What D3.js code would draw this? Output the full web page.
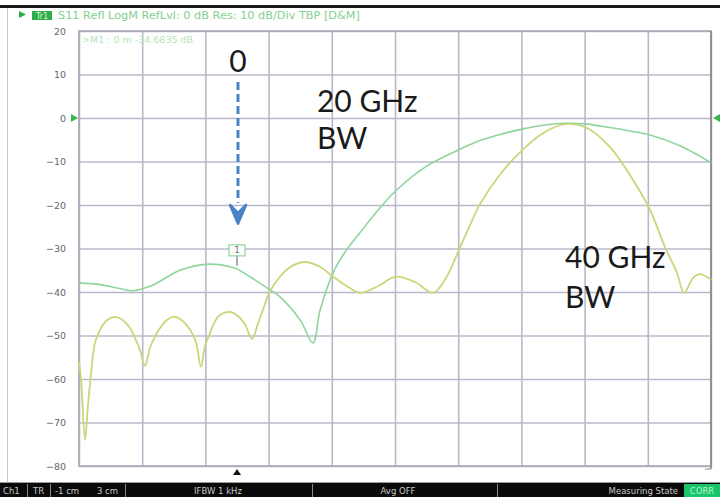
<!DOCTYPE html>
<html>
<head>
<meta charset="utf-8">
<script src="https://cdn.jsdelivr.net/npm/d3@7"></script>
<style>
  body { margin: 0; background: #fff; }
  svg { display: block; font-family: "DejaVu Sans", sans-serif; }
</style>
</head>
<body>
<script>
// distance in cm, S11 in dB
var trace20X = [-1.000, -0.867, -0.741, -0.658, -0.532, -0.361, -0.171, -0.044, 0.000, 0.082, 0.209, 0.272, 0.399, 0.481,
  0.525, 0.608, 0.684, 0.778, 0.886, 1.000, 1.203, 1.411, 1.538, 1.665, 1.810, 1.949, 2.076, 2.215, 2.361, 2.487, 2.614, 2.804, 3.000];
var trace20Y = [-37.9, -38.3, -39.2, -39.7, -38.4, -35.0, -33.6, -34.2, -34.68, -36.5, -39.5, -41.1, -46.4, -51.7,
  -44.3, -35.6, -30.8, -26.4, -21.5, -16.9, -11.0, -7.2, -5.2, -3.8, -2.5, -1.6, -1.2, -1.4, -2.2, -3.0, -3.9, -6.4, -10.3];

var trace40X = [-1.000, -0.987, -0.962, -0.943, -0.930, -0.899, -0.867, -0.823, -0.772, -0.722, -0.677, -0.645, -0.614, -0.582,
  -0.551, -0.520, -0.487, -0.450, -0.405, -0.360, -0.297, -0.260, -0.228, -0.203, -0.171, -0.140, -0.108, -0.044, 0.006, 0.051, 0.095,
  0.133, 0.165, 0.209, 0.272, 0.335, 0.430, 0.525, 0.608, 0.715, 0.778, 0.905, 1.000, 1.127, 1.241, 1.316, 1.405, 1.475, 1.538,
  1.665, 1.810, 1.949, 2.076, 2.215, 2.361, 2.519, 2.614, 2.709, 2.785, 2.829, 2.886, 2.930, 3.000];
var trace40Y = [-56.0, -60.0, -74.0, -66.0, -61.0, -51.7, -48.7, -46.5, -45.7, -46.5, -48.3, -50.6, -53.3, -57.0,
  -52.8, -50.3, -48.3, -46.6, -45.7, -46.2, -48.7, -51.5, -57.2, -52.5, -49.5, -46.8, -45.3, -44.6, -45.5, -47.5, -50.8,
  -47.2, -44.0, -39.8, -36.5, -34.3, -33.1, -34.2, -36.5, -39.1, -40.2, -38.4, -36.5, -37.7, -40.2, -37.2, -30.3, -24.6, -19.8,
  -13.0, -7.2, -3.2, -1.4, -2.3, -6.7, -15.0, -21.1, -29.7, -35.6, -40.2, -36.8, -35.9, -37.2];

var yTicks = [20, 10, 0, -10, -20, -30, -40, -50, -60, -70, -80];
var xTicks = d3.range(0, 11).map(function(i) { return -1 + i * 0.4; });
var markerX = 0, markerY = -34.6835;

var headerText = "S11 Refl LogM RefLvl: 0 dB Res: 10 dB/Div TBP [D&M]";
var statusCells = [
  {text: "Ch1", x: 3, anchor: "start"},
  {text: "TR", x: 33, anchor: "start"},
  {text: "-1 cm", x: 55, anchor: "start"},
  {text: "3 cm", x: 97, anchor: "start"},
  {text: "IFBW 1 kHz", x: 218, anchor: "middle"},
  {text: "Avg OFF", x: 398, anchor: "middle"},
  {text: "Measuring State", x: 678, anchor: "end"}
];
var statusSeps = [27, 50, 125, 312, 497];

var W = 720, H = 497;
var margin = {top: 31, left: 79, right: 9, bottom: 31};
var width = W - margin.left - margin.right,
    height = H - margin.top - margin.bottom;

var x = d3.scaleLinear().domain([-1, 3]).range([0, width]);
var y = d3.scaleLinear().domain([-80, 20]).range([height, 0]);

var svg = d3.select("body").append("svg")
    .attr("width", W)
    .attr("height", H);

// top black rule and left frame line
svg.append("rect").attr("x", 0).attr("y", 5).attr("width", W).attr("height", 3).attr("fill", "#1a1a1a");
svg.append("line").attr("x1", 7.5).attr("x2", 7.5).attr("y1", 8).attr("y2", 482)
    .attr("stroke", "#c8c8c8").attr("stroke-width", 1);

// header
svg.append("path").attr("d", "M19,11 L26,14.5 L19,18 Z").attr("fill", "#2fae4a");
svg.append("rect").attr("x", 32).attr("y", 11).attr("width", 20).attr("height", 9).attr("fill", "#2fae4a");
svg.append("text").attr("x", 42).attr("y", 18.5).attr("text-anchor", "middle")
    .attr("font-size", 8).attr("fill", "#d9f5dd").text("Tr1");
svg.append("text").attr("x", 58).attr("y", 19).attr("font-size", 10)
    .attr("textLength", 302).attr("lengthAdjust", "spacingAndGlyphs")
    .attr("fill", "#86cf8f").text(headerText);

var g = svg.append("g").attr("transform", "translate(" + margin.left + "," + margin.top + ")");

// grid
g.append("g")
    .attr("class", "grid")
    .call(d3.axisLeft(y).tickValues(yTicks).tickSize(-width).tickFormat(""))
    .call(function(s) { s.select(".domain").remove(); });
g.append("g")
    .attr("class", "grid")
    .call(d3.axisBottom(x).tickValues(xTicks).tickSize(height).tickFormat(""))
    .call(function(s) { s.select(".domain").remove(); });
g.selectAll(".grid line").attr("stroke", "#b9b8cb").attr("stroke-width", 1.6);

// frame
g.append("rect").attr("width", width).attr("height", height)
    .attr("fill", "none").attr("stroke", "#a9a9b4").attr("stroke-width", 1.6);
g.append("line").attr("x1", width).attr("x2", width).attr("y1", 0).attr("y2", height + 3)
    .attr("stroke", "#8a8a8a").attr("stroke-width", 1.6);
g.append("line").attr("x1", width - 6).attr("x2", width).attr("y1", height + 3).attr("y2", height + 3)
    .attr("stroke", "#8a8a8a").attr("stroke-width", 1);

// y tick labels
g.append("g")
    .call(d3.axisLeft(y).tickValues(yTicks).tickSize(0).tickPadding(13))
    .call(function(s) { s.select(".domain").remove(); })
    .selectAll("text")
    .attr("font-size", 9.5)
    .attr("font-family", "DejaVu Sans, sans-serif")
    .attr("fill", "#666");

// reference level arrows at 0 dB
g.append("path").attr("d", "M-8," + (y(0) - 4) + " L-1," + y(0) + " L-8," + (y(0) + 4) + " Z").attr("fill", "#3bb54a");
g.append("path").attr("d", "M" + (width + 9) + "," + (y(0) - 4) + " L" + (width + 2) + "," + y(0) + " L" + (width + 9) + "," + (y(0) + 4) + " Z").attr("fill", "#3bb54a");

// marker readout
g.append("text").attr("x", 3).attr("y", 12).attr("font-size", 9.5)
    .attr("fill", "#b6e3bc").text(">M1 :  0 m  -34.6835  dB");

// traces
var line = d3.line().curve(d3.curveCatmullRom.alpha(0.5))
    .x(function(d) { return x(d[0]); })
    .y(function(d) { return y(d[1]); });

g.append("path")
    .datum(d3.zip(trace20X, trace20Y))
    .attr("fill", "none")
    .attr("stroke", "#8fd59b")
    .attr("stroke-width", 1.6)
    .attr("d", line);

g.append("path")
    .datum(d3.zip(trace40X, trace40Y))
    .attr("fill", "none")
    .attr("stroke", "#c9d679")
    .attr("stroke-width", 1.8)
    .attr("d", line);

// marker flag
var mx = x(markerX), my = y(markerY);
g.append("line").attr("x1", mx).attr("x2", mx).attr("y1", my - 16).attr("y2", my - 3)
    .attr("stroke", "#777").attr("stroke-width", 1.2);
g.append("rect").attr("x", mx - 8).attr("y", my - 24).attr("width", 16).attr("height", 11)
    .attr("fill", "#fff").attr("stroke", "#8fd59b").attr("stroke-width", 1.2);
g.append("text").attr("x", mx).attr("y", my - 15.5).attr("text-anchor", "middle")
    .attr("font-size", 8).attr("fill", "#666").text("1");

// marker position triangle under the plot
g.append("path").attr("d", "M" + (mx - 4) + "," + (height + 9) + " L" + mx + "," + (height + 3) + " L" + (mx + 4) + "," + (height + 9) + " Z")
    .attr("fill", "#111");

// annotation arrow
g.append("line").attr("x1", mx + 1).attr("x2", mx + 1).attr("y1", y(8.3)).attr("y2", y(-19.5))
    .attr("stroke", "#4a82c6").attr("stroke-width", 3).attr("stroke-dasharray", "8,4");
g.append("path")
    .attr("d", "M" + (mx - 7) + "," + y(-20) + " L" + (mx + 1) + "," + y(-24.3) + " L" + (mx + 9) + "," + y(-20) + " L" + (mx + 1) + "," + y(-21.8) + " Z")
    .attr("fill", "#4a82c6").attr("stroke", "#4a82c6").attr("stroke-width", 2.5).attr("stroke-linejoin", "round");

// annotation text
var ann = [
  {t: "0", px: mx + 1, py: y(10.6), anchor: "middle"},
  {t: "20 GHz", px: x(0.506), py: y(1.3), anchor: "start"},
  {t: "BW", px: x(0.506), py: y(-7.2), anchor: "start"},
  {t: "40 GHz", px: x(2.076), py: y(-34.5), anchor: "start"},
  {t: "BW", px: x(2.076), py: y(-43.7), anchor: "start"}
];
g.selectAll(".ann").data(ann).enter().append("text")
    .attr("class", "ann")
    .attr("x", function(d) { return d.px; })
    .attr("y", function(d) { return d.py; })
    .attr("text-anchor", function(d) { return d.anchor; })
    .attr("font-family", "Lato, sans-serif")
    .attr("font-size", 30)
    .attr("fill", "#1a1a1a")
    .text(function(d) { return d.t; });

// status bar
svg.append("rect").attr("x", 0).attr("y", 482).attr("width", W).attr("height", 15).attr("fill", "#0a0a0a");
svg.append("line").attr("x1", 0).attr("x2", W).attr("y1", 482.5).attr("y2", 482.5).attr("stroke", "#9a9a9a");
svg.selectAll(".sep").data(statusSeps).enter().append("line")
    .attr("x1", function(d) { return d + 0.5; }).attr("x2", function(d) { return d + 0.5; })
    .attr("y1", 484).attr("y2", 497).attr("stroke", "#8a8a8a");
svg.append("rect").attr("x", 684).attr("y", 484).attr("width", 36).attr("height", 13).attr("fill", "#19c46a");
svg.append("text").attr("x", 702).attr("y", 494).attr("text-anchor", "middle")
    .attr("font-size", 8.5).attr("fill", "#b8f5cf").text("CORR");
svg.selectAll(".stat").data(statusCells).enter().append("text")
    .attr("x", function(d) { return d.x; })
    .attr("y", 494)
    .attr("text-anchor", function(d) { return d.anchor; })
    .attr("font-size", 8.5)
    .attr("fill", "#c8c8c8")
    .text(function(d) { return d.text; });
</script>
</body>
</html>
